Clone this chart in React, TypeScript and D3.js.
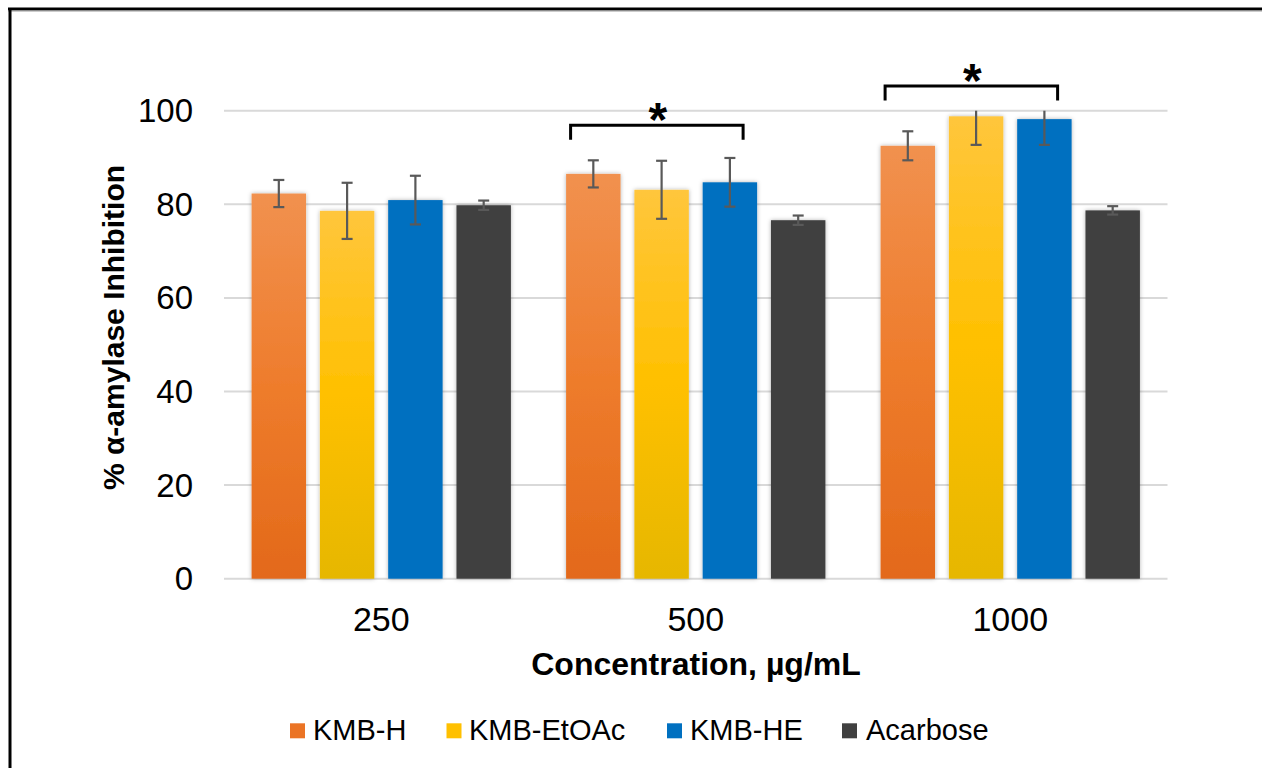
import React from "react";
import * as d3 from "d3";

const categories = ["250", "500", "1000"];
const seriesNames = ["KMB-H", "KMB-EtOAc", "KMB-HE", "Acarbose"];
const kmbH = [82.3, 86.5, 92.5];
const kmbHErr = [2.9, 2.9, 3.1];
const kmbEtOAc = [78.6, 83.1, 98.8];
const kmbEtOAcErr = [6.0, 6.2, 6.1];
const kmbHE = [80.9, 84.7, 98.2];
const kmbHEErr = [5.2, 5.2, 5.5];
const acarbose = [79.8, 76.6, 78.7];
const acarboseErr = [1.0, 1.0, 0.9];
const yTicks = [0, 20, 40, 60, 80, 100];
const significant = ["500", "1000"];
const sigLevel = [96.9, 105.3];

const W = 1262;
const H = 768;
const FONT = "'Liberation Sans', Arial, sans-serif";

export default function App() {
  const values = [kmbH, kmbEtOAc, kmbHE, acarbose];
  const errs = [kmbHErr, kmbEtOAcErr, kmbHEErr, acarboseErr];
  const x0 = d3.scaleBand<string>().domain(categories).range([224, 1167.5]).paddingInner(0).paddingOuter(0);
  const x1 = d3
    .scaleBand<string>()
    .domain(seriesNames)
    .range([27.6, x0.bandwidth() - 27.6])
    .paddingInner(0.203)
    .paddingOuter(0);
  const y = d3.scaleLinear().domain([0, 100]).range([578.7, 110.7]);
  const fills = ["url(#gOrange)", "url(#gYellow)", "#0070C0", "#404040"];
  const legendColors = ["#EB7425", "#FFC000", "#0070C0", "#404040"];
  const bw = x1.bandwidth();
  const capW = 11;

  const legendItems = [
    { sx: 290, tx: 313 },
    { sx: 446.5, tx: 469 },
    { sx: 667, tx: 690 },
    { sx: 842, tx: 866 },
  ];

  return (
    <svg
      width={W}
      height={H}
      style={{ position: "absolute", left: 0, top: 0, background: "#fff" }}
      fontFamily={FONT}
    >
      <defs>
        <linearGradient id="gOrange" x1="0" y1="0" x2="0" y2="1">
          <stop offset="0" stopColor="#F1914F" />
          <stop offset="0.5" stopColor="#EE7C2C" />
          <stop offset="1" stopColor="#E3691A" />
        </linearGradient>
        <linearGradient id="gYellow" x1="0" y1="0" x2="0" y2="1">
          <stop offset="0" stopColor="#FFC63C" />
          <stop offset="0.5" stopColor="#FFC000" />
          <stop offset="1" stopColor="#E6B700" />
        </linearGradient>
        <filter id="shadow" x="-20%" y="-10%" width="140%" height="120%">
          <feDropShadow dx="0" dy="0" stdDeviation="2.2" floodColor="#000" floodOpacity="0.3" />
        </filter>
      </defs>
      {/* frame */}
      <line x1={8} x2={W} y1={9} y2={9} stroke="#000" strokeWidth={3} />
      <line x1={8} x2={W} y1={11} y2={11} stroke="#999" strokeWidth={1} />
      <line x1={10} x2={10} y1={8} y2={H} stroke="#000" strokeWidth={3} />

      {/* gridlines */}
      {yTicks.map((t) => (
        <g key={t}>
          <line x1={224} x2={1167.5} y1={y(t)} y2={y(t)} stroke="#D9D9D9" strokeWidth={2} />
          <text x={193} y={y(t) + 11.5} textAnchor="end" fontSize={33} fill="#000">
            {t}
          </text>
        </g>
      ))}

      {/* bars */}
      {categories.map((c, ci) => (
        <g key={c} transform={`translate(${x0(c)},0)`}>
          {seriesNames.map((s, si) => {
            const v = values[si][ci];
            return (
              <rect
                key={s}
                x={x1(s)}
                y={y(v)}
                width={bw}
                height={y(0) - y(v)}
                fill={fills[si]}
                filter="url(#shadow)"
              />
            );
          })}
          {seriesNames.map((s, si) => {
            const v = values[si][ci];
            const e = errs[si][ci];
            const cx = (x1(s) as number) + bw / 2;
            const top = Math.min(100, v + e);
            const clipped = v + e > 100;
            return (
              <g key={s} stroke="#595959" strokeWidth={2.2}>
                <line x1={cx} x2={cx} y1={y(top)} y2={y(v - e)} />
                {!clipped && <line x1={cx - capW / 2} x2={cx + capW / 2} y1={y(top)} y2={y(top)} />}
                <line x1={cx - capW / 2} x2={cx + capW / 2} y1={y(v - e)} y2={y(v - e)} />
              </g>
            );
          })}
          <text
            x={x0.bandwidth() / 2}
            y={631}
            textAnchor="middle"
            fontSize={34}
            fill="#000"
          >
            {c}
          </text>
        </g>
      ))}

      {/* significance brackets */}
      {significant.map((c, i) => {
        const lx = (x0(c) as number) + (x1("KMB-H") as number) + 4.5;
        const rx = (x0(c) as number) + (x1("KMB-HE") as number) + bw - 14;
        const yb = y(sigLevel[i]);
        const mid = (lx + rx) / 2;
        return (
          <g key={c}>
            <path
              d={`M${lx},${yb + 14.5}V${yb}H${rx}V${yb + 14.5}`}
              fill="none"
              stroke="#000"
              strokeWidth={3}
            />
            <text x={mid + 1} y={yb + 11} textAnchor="middle" fontSize={48} fontWeight="bold" fill="#000">
              *
            </text>
          </g>
        );
      })}

      {/* axis titles */}
      <text
        transform={`translate(124.3,327.5) rotate(-90)`}
        textAnchor="middle"
        fontSize={30}
        fontWeight="bold"
        fill="#000"
      >
        % α-amylase Inhibition
      </text>
      <text x={696} y={675} textAnchor="middle" fontSize={32} fontWeight="bold" fill="#000">
        Concentration, µg/mL
      </text>

      {/* legend */}
      {seriesNames.map((s, si) => (
        <g key={s}>
          <rect x={legendItems[si].sx} y={723.3} width={15} height={15} fill={legendColors[si]} />
          <text x={legendItems[si].tx} y={740} fontSize={29} fill="#000">
            {s}
          </text>
        </g>
      ))}
    </svg>
  );
}
